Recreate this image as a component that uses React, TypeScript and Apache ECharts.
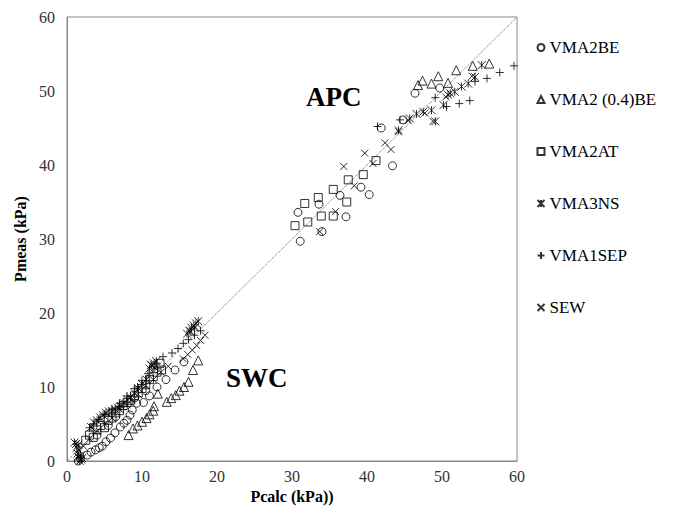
import React, { useEffect, useRef } from "react";
import * as echarts from "echarts";

const xTicks = [0, 10, 20, 30, 40, 50, 60];
const yTicks = [0, 10, 20, 30, 40, 50, 60];

const seriesNames = ["VMA2BE", "VMA2 (0.4)BE", "VMA2AT", "VMA3NS", "VMA1SEP", "SEW"];

const vma2be: number[][] = [
  [1.5, 0.0], [1.8, 0.3], [2.7, 0.8], [3.2, 1.2], [3.8, 1.5], [4.3, 1.8], [4.7, 2.0], [5.2, 2.6],
  [5.8, 3.1], [6.4, 3.8], [7.1, 4.6], [7.6, 5.1], [8.0, 5.5], [8.4, 6.2], [8.7, 6.9], [9.3, 7.8],
  [10.2, 7.9], [11.0, 8.8], [12.0, 10.0], [13.2, 11.0], [14.4, 12.3], [15.6, 13.4],
  [4.0, 3.5], [5.5, 4.8], [6.5, 6.0], [9.0, 8.5], [10.5, 9.5],
  [31.1, 29.7], [30.8, 33.6], [33.6, 34.7], [34.0, 31.0], [36.4, 35.9], [37.2, 33.0], [39.2, 37.0],
  [40.3, 36.0], [41.9, 45.0], [43.4, 39.9], [44.8, 46.1], [46.4, 49.7], [49.7, 50.4],
];

const vma204be: number[][] = [
  [8.2, 3.5], [8.8, 4.4], [9.4, 4.8], [10.0, 5.3], [10.6, 5.8], [11.0, 6.3], [11.5, 6.8], [11.6, 7.4],
  [12.1, 9.1], [13.3, 8.0], [13.9, 8.5], [14.5, 8.9], [15.0, 9.5], [15.6, 10.0], [16.2, 10.7],
  [16.8, 12.3], [17.5, 13.6],
  [46.8, 50.8], [47.4, 51.4], [48.6, 51.0], [49.5, 52.0], [50.8, 51.1], [51.9, 52.8], [54.1, 53.4],
  [56.3, 53.7],
];

const vma2at: number[][] = [
  [2.5, 2.8], [3.0, 3.5], [3.5, 3.2], [4.0, 4.2], [4.5, 4.8], [5.0, 4.5], [5.5, 5.5], [6.0, 5.8],
  [6.5, 6.5], [7.0, 6.8], [7.5, 7.5], [8.0, 7.9], [8.5, 8.2], [9.0, 8.8], [9.5, 9.2], [10.0, 9.8],
  [10.5, 10.3], [11.0, 11.0], [11.5, 11.4], [12.0, 12.0], [12.4, 13.2], [12.6, 12.3],
  [30.4, 31.8], [32.1, 32.3], [31.7, 34.8], [33.5, 35.6], [33.9, 33.1], [35.5, 33.1], [35.5, 36.7],
  [37.3, 35.0], [37.5, 38.0], [39.5, 38.7], [41.2, 40.6],
];

const vma3ns: number[][] = [
  [1.0, 2.5], [1.2, 2.3], [1.5, 2.2], [1.3, 1.8], [1.6, 1.5], [1.4, 1.0], [1.8, 0.8], [1.5, 0.5],
  [1.9, 0.2], [1.7, 0.0], [2.0, 0.4],
  [3.2, 4.6], [3.6, 5.2], [4.0, 5.5], [4.4, 5.9], [4.8, 6.2], [5.2, 6.5], [5.6, 6.7], [6.0, 6.8],
  [6.4, 7.0], [6.8, 7.2], [7.2, 7.4], [7.6, 7.8], [8.0, 8.3], [8.5, 8.6], [9.0, 9.2], [9.5, 9.8],
  [10.0, 10.4], [10.6, 11.0], [11.0, 12.5], [11.3, 12.9], [11.6, 13.2], [11.9, 13.5], [11.2, 13.0],
  [11.7, 12.6], [16.0, 17.2], [16.3, 17.6], [16.6, 18.0], [16.9, 18.3], [17.2, 18.6], [17.5, 18.9],
  [16.5, 17.5], [17.0, 18.0],
  [44.2, 44.7], [45.7, 46.3], [46.6, 46.9], [47.5, 47.2], [48.6, 47.4], [49.1, 45.9], [50.2, 48.1],
  [50.8, 49.5], [51.1, 49.7], [51.7, 49.9], [52.6, 50.6], [53.5, 51.0], [54.4, 51.9], [55.3, 53.5],
];

const vma1sep: number[][] = [
  [3.0, 4.5], [3.5, 5.0], [4.2, 5.6], [5.0, 6.3], [6.0, 7.0], [7.0, 7.8], [8.0, 8.8], [9.0, 9.8],
  [9.4, 10.0], [10.0, 10.9], [10.8, 11.8], [12.0, 13.2], [12.8, 14.1], [14.0, 14.6], [14.8, 15.2],
  [15.5, 15.9], [16.2, 16.4], [17.0, 17.0], [17.8, 17.6],
  [41.4, 45.2], [44.4, 46.1], [49.1, 49.1], [50.6, 47.9], [52.3, 48.3], [53.7, 48.7], [54.4, 51.3],
  [56.0, 51.7], [57.7, 52.5], [59.6, 53.4],
];

const sew: number[][] = [
  [2.2, 2.0], [3.0, 3.0], [4.0, 4.0], [5.0, 5.0], [6.0, 5.8], [7.0, 7.0], [8.0, 7.6], [8.6, 8.3],
  [9.5, 9.0], [10.5, 10.2], [11.5, 11.0], [12.5, 12.0], [13.5, 12.8], [15.5, 13.8], [16.1, 14.4],
  [16.7, 15.0], [17.3, 15.6], [17.8, 16.3], [18.4, 17.0],
  [33.7, 31.0], [35.8, 33.7], [36.9, 39.8], [38.3, 37.2], [39.7, 41.6], [40.8, 40.2], [42.4, 43.0],
  [43.2, 42.1], [44.2, 44.5], [45.5, 46.0], [47.7, 47.0], [48.8, 45.9], [50.5, 49.2], [54.0, 52.0],
];

const diagonal: number[][] = [[0, 0], [60, 60]];

const SERIF = "Liberation Serif";

const hollow = { color: "none", borderColor: "#000", borderWidth: 1 };

export default function App() {
  const ref = useRef<HTMLDivElement>(null);
  useEffect(() => {
    if (!ref.current) return;
    const chart = echarts.init(ref.current, null, { renderer: "svg" });
    const mk = (name: string, data: number[][], symbol: string, size: number) => ({
      name,
      type: "scatter",
      data,
      symbol,
      symbolSize: size,
      itemStyle: hollow,
      z: 3,
    });
    chart.setOption({
      animation: false,
      backgroundColor: "#fff",
      textStyle: { fontFamily: SERIF },
      grid: { left: 67, right: 158, top: 17, bottom: 56, show: true, borderColor: "#888", borderWidth: 1 },
      xAxis: {
        type: "value",
        min: xTicks[0],
        max: xTicks[xTicks.length - 1],
        interval: 10,
        name: "Pcalc (kPa))",
        nameLocation: "middle",
        nameGap: 21,
        nameTextStyle: { fontFamily: SERIF, fontWeight: "bold", fontSize: 16, color: "#000" },
        axisLine: { show: true, lineStyle: { color: "#888" } },
        axisTick: { show: false },
        splitLine: { show: false },
        axisLabel: { fontFamily: SERIF, fontSize: 16, color: "#333", margin: 7 },
      },
      yAxis: {
        type: "value",
        min: yTicks[0],
        max: yTicks[yTicks.length - 1],
        interval: 10,
        name: "Pmeas (kPa)",
        nameLocation: "middle",
        nameGap: 33,
        nameTextStyle: { fontFamily: SERIF, fontWeight: "bold", fontSize: 16, color: "#000" },
        axisLine: { show: true, lineStyle: { color: "#888" } },
        axisTick: { show: false },
        splitLine: { show: false },
        axisLabel: { fontFamily: SERIF, fontSize: 16, color: "#333", margin: 12 },
      },
      legend: {
        data: seriesNames,
        orient: "vertical",
        left: 530,
        top: 34,
        itemWidth: 7,
        itemHeight: 7,
        itemGap: 35,
        textStyle: { fontFamily: SERIF, fontSize: 17, color: "#000" },
      },
      graphic: [
        { type: "text", left: 306, top: 83, style: { text: "APC", font: `bold 27px ${SERIF}`, fill: "#000" } },
        { type: "text", left: 226, top: 364, style: { text: "SWC", font: `bold 27px ${SERIF}`, fill: "#000" } },
      ],
      series: [
        {
          name: "diag",
          type: "line",
          data: diagonal,
          symbol: "none",
          lineStyle: { type: "dotted", color: "#666", width: 1 },
          z: 1,
          silent: true,
        },
        mk(seriesNames[0], vma2be, "circle", 8),
        mk(seriesNames[1], vma204be, "triangle", 9),
        mk(seriesNames[2], vma2at, "rect", 8),
        mk(seriesNames[3], vma3ns, "path://M0,0L10,10M10,0L0,10M5,0L5,10", 8),
        mk(seriesNames[4], vma1sep, "path://M5,0L5,10M0,5L10,5", 8),
        mk(seriesNames[5], sew, "path://M0,0L10,10M10,0L0,10", 7),
      ],
    });
    return () => chart.dispose();
  }, []);
  return (
    <div
      ref={ref}
      style={{ position: "fixed", left: 0, top: 0, width: 675, height: 517 }}
    />
  );
}
